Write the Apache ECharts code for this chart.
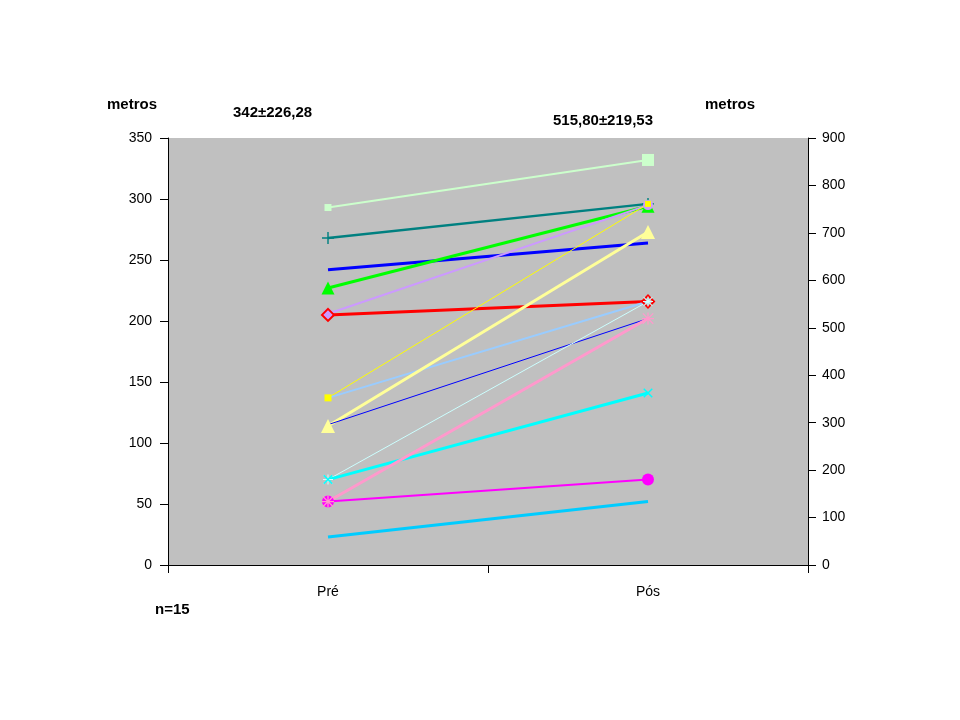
<!DOCTYPE html>
<html>
<head>
<meta charset="utf-8">
<script src="https://cdn.jsdelivr.net/npm/echarts@6/dist/echarts.min.js"></script>
<style>html,body{margin:0;padding:0;background:#fff}#c{width:960px;height:720px}</style>
</head>
<body>
<div id="c"></div>
<script>
// ---- data ----
const categories = ['Pré', 'Pós'];
const preValues = [293, 268, 242, 227, 206, 205, 137, 137, 114, 115, 70, 70, 52, 52, 23];
const posValues = [332, 296, 264, 294, 295, 216, 296, 216, 273, 202, 216, 141, 70, 202, 52];
const leftTicks = { min: 0, max: 350, interval: 50 };
const rightTicks = { min: 0, max: 900, interval: 100 };
const annotations = ['metros', '342±226,28', '515,80±219,53', 'metros', 'n=15'];

// ---- styles ----
const PLUS = 'path://M4.4,0H5.6V4.4H10V5.6H5.6V10H4.4V5.6H0V4.4H4.4Z';
const STAR = 'path://M4.5,0H5.5V10H4.5Z M0,4.5H10V5.5H0Z M1,0.3L9.7,9L9,9.7L0.3,1Z M9.7,1L1,9.7L0.3,9L9,0.3Z';
const styles = [
  { color: '#ccffcc', width: 2, symbol: 'rect', sizes: [7, 12] },
  { color: '#008080', width: 2.5, symbol: PLUS, sizes: [12, 12] },
  { color: '#0000ff', width: 3, symbol: 'none' },
  { color: '#00ff00', width: 3, symbol: 'triangle', sizes: [13, 13] },
  { color: '#cc99ff', width: 2, symbol: 'circle', sizes: [10, 10] },
  { color: '#ff0000', width: 3, symbol: 'diamond', sizes: [12, 12], hollow: true },
  { color: '#ffff00', width: 1, symbol: 'rect', sizes: [7, 6] },
  { color: '#99ccff', width: 2, symbol: 'none' },
  { color: '#ffff99', width: 3, symbol: 'triangle', sizes: [14, 14] },
  { color: '#0000ff', width: 1, symbol: 'none' },
  { color: '#ccffff', width: 1, symbol: STAR, sizes: [10, 10] },
  { color: '#00ffff', width: 3, symbol: PLUS, sizes: [12, 12], rotate: 45 },
  { color: '#ff00ff', width: 2, symbol: 'circle', sizes: [12, 12] },
  { color: '#ff99cc', width: 3, symbol: STAR, sizes: [12, 12] },
  { color: '#00ccff', width: 3, symbol: 'none' }
];

const series = preValues.map((v, i) => {
  const st = styles[i];
  return {
    type: 'line',
    yAxisIndex: 0,
    data: [v, posValues[i]],
    symbol: st.symbol,
    showSymbol: st.symbol !== 'none',
    symbolRotate: st.rotate || 0,
    symbolSize: (val, p) => (st.sizes ? st.sizes[p.dataIndex] : 0),
    lineStyle: { color: st.color, width: st.width },
    itemStyle: st.hollow
      ? { color: 'rgba(0,0,0,0)', borderColor: st.color, borderWidth: 2 }
      : { color: st.color, borderWidth: 0 },
    emphasis: { disabled: true },
    animation: false,
    silent: true
  };
});

const chart = echarts.init(document.getElementById('c'), null, { renderer: 'canvas' });
const axisFont = { color: '#000', fontSize: 14, fontFamily: 'Liberation Sans, Arial, sans-serif' };
const boldText = { fill: '#000', fontSize: 15, fontWeight: 'bold', fontFamily: 'Liberation Sans, Arial, sans-serif' };

chart.setOption({
  backgroundColor: '#ffffff',
  animation: false,
  grid: { left: 168, right: 152, top: 138, bottom: 155, show: true, backgroundColor: '#c0c0c0', borderWidth: 0 },
  xAxis: {
    type: 'category',
    data: categories,
    boundaryGap: true,
    axisLine: { show: true, lineStyle: { color: '#000', width: 1 } },
    axisTick: { show: true, inside: false, length: 8, interval: 0, lineStyle: { color: '#000' } },
    axisLabel: Object.assign({ margin: 20 }, axisFont),
    splitLine: { show: false }
  },
  yAxis: [
    {
      type: 'value', position: 'left',
      min: leftTicks.min, max: leftTicks.max, interval: leftTicks.interval,
      axisLine: { show: true, lineStyle: { color: '#000', width: 1 } },
      axisTick: { show: true, inside: false, length: 8, lineStyle: { color: '#000' } },
      axisLabel: Object.assign({ margin: 16 }, axisFont),
      splitLine: { show: false }
    },
    {
      type: 'value', position: 'right',
      min: rightTicks.min, max: rightTicks.max, interval: rightTicks.interval,
      axisLine: { show: true, lineStyle: { color: '#000', width: 1 } },
      axisTick: { show: true, inside: false, length: 8, lineStyle: { color: '#000' } },
      axisLabel: Object.assign({ margin: 14 }, axisFont),
      splitLine: { show: false }
    }
  ],
  graphic: [
    { type: 'text', left: 107, top: 97, style: Object.assign({ text: annotations[0] }, boldText) },
    { type: 'text', left: 233, top: 105, style: Object.assign({ text: annotations[1] }, boldText) },
    { type: 'text', left: 553, top: 113, style: Object.assign({ text: annotations[2] }, boldText) },
    { type: 'text', left: 705, top: 97, style: Object.assign({ text: annotations[3] }, boldText) },
    { type: 'text', left: 155, top: 602, style: Object.assign({ text: annotations[4] }, boldText) }
  ],
  series: series
});
</script>
</body>
</html>
